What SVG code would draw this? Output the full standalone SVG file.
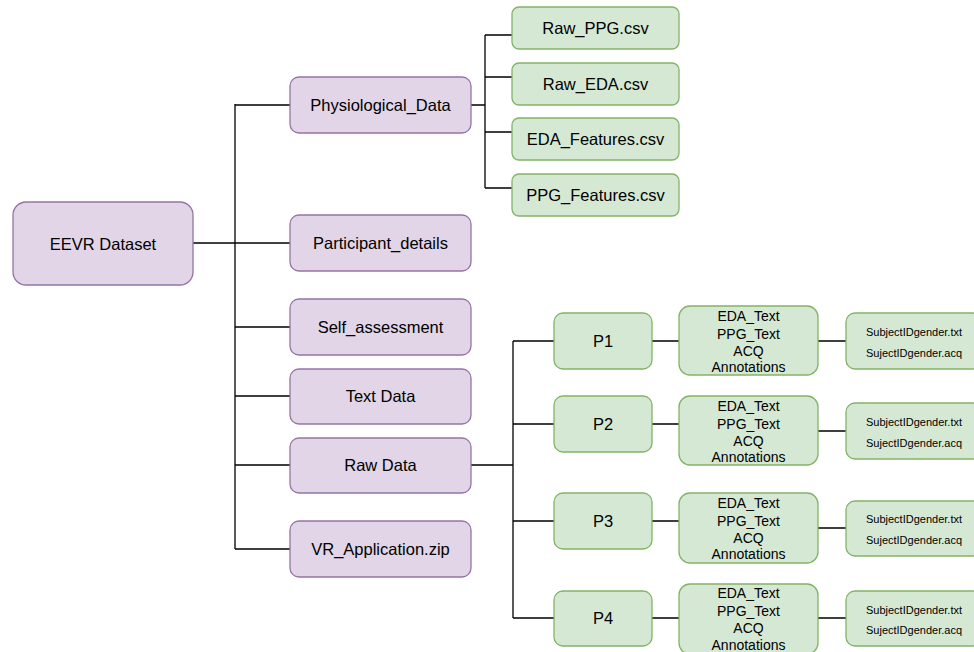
<svg xmlns="http://www.w3.org/2000/svg" width="974" height="652" viewBox="0 0 974 652">
<style>
.p{fill:#e1d5e7;stroke:#9673a6;stroke-width:1.3}
.g{fill:#d5e8d4;stroke:#82b366;stroke-width:1.3}
text{font-family:"Liberation Sans",Arial,sans-serif;fill:#000;text-anchor:middle;dominant-baseline:central}
.t16{font-size:16.5px}
.t14{font-size:14px}
.t11{font-size:11px}
#connectors path{fill:none;stroke:#000;stroke-width:1.3}
</style>
<rect width="974" height="652" fill="#fff"/>
<g id="connectors">
<path d="M193 243H290"/>
<path d="M235 104V549M235 105H290M235 327H290M235 396H290M235 465H290M235 549H290"/>
<path d="M471 105H485M485 35V188M485 35H512M485 77H512M485 132H512M485 188H512"/>
<path d="M471 465H513M513 341V618M513 341H554M513 424H554M513 521H554M513 618H554"/>
<path d="M652 341H679M652 424H679M652 521H679M652 618H679"/>
<path d="M818 341H846M818 431H846M818 528H846M818 618H846"/>
</g>
<g id="root"><rect class="p" x="13" y="202" width="180" height="83" rx="13"/><text class="t16" x="103" y="243.5">EEVR Dataset</text></g>
<g id="physio"><rect class="p" x="290" y="77" width="181" height="56" rx="9"/><text class="t16" x="380.5" y="105">Physiological_Data</text></g>
<g id="participant"><rect class="p" x="290" y="215" width="181" height="56" rx="9"/><text class="t16" x="380.5" y="243">Participant_details</text></g>
<g id="self"><rect class="p" x="290" y="299" width="181" height="56" rx="9"/><text class="t16" x="380.5" y="327">Self_assessment</text></g>
<g id="text"><rect class="p" x="290" y="369" width="181" height="55" rx="9"/><text class="t16" x="380.5" y="396">Text Data</text></g>
<g id="raw"><rect class="p" x="290" y="438" width="181" height="55" rx="9"/><text class="t16" x="380.5" y="465">Raw Data</text></g>
<g id="vr"><rect class="p" x="290" y="521" width="181" height="56" rx="9"/><text class="t16" x="380.5" y="549">VR_Application.zip</text></g>
<g id="rawppg"><rect class="g" x="512" y="7" width="167" height="42" rx="7"/><text class="t16" x="595.5" y="28">Raw_PPG.csv</text></g>
<g id="raweda"><rect class="g" x="512" y="63" width="167" height="42" rx="7"/><text class="t16" x="595.5" y="84">Raw_EDA.csv</text></g>
<g id="edafeat"><rect class="g" x="512" y="118" width="167" height="42" rx="7"/><text class="t16" x="595.5" y="139">EDA_Features.csv</text></g>
<g id="ppgfeat"><rect class="g" x="512" y="174" width="167" height="42" rx="7"/><text class="t16" x="595.5" y="195">PPG_Features.csv</text></g>
<g id="p1"><rect class="g" x="554" y="313" width="98" height="56" rx="9"/><text class="t16" x="603" y="341">P1</text></g>
<g id="p2"><rect class="g" x="554" y="396" width="98" height="56" rx="9"/><text class="t16" x="603" y="424">P2</text></g>
<g id="p3"><rect class="g" x="554" y="493" width="98" height="56" rx="9"/><text class="t16" x="603" y="521">P3</text></g>
<g id="p4"><rect class="g" x="554" y="591" width="98" height="55" rx="9"/><text class="t16" x="603" y="618">P4</text></g>
<g id="m1"><rect class="g" x="679" y="306" width="139" height="69" rx="11"/><text class="t14" x="748.5" y="316">EDA_Text</text><text class="t14" x="748.5" y="334">PPG_Text</text><text class="t14" x="748.5" y="351">ACQ</text><text class="t14" x="748.5" y="367">Annotations</text></g>
<g id="m2"><rect class="g" x="679" y="396" width="139" height="69" rx="11"/><text class="t14" x="748.5" y="406">EDA_Text</text><text class="t14" x="748.5" y="424">PPG_Text</text><text class="t14" x="748.5" y="441">ACQ</text><text class="t14" x="748.5" y="457">Annotations</text></g>
<g id="m3"><rect class="g" x="679" y="493" width="139" height="70" rx="11"/><text class="t14" x="748.5" y="503">EDA_Text</text><text class="t14" x="748.5" y="521">PPG_Text</text><text class="t14" x="748.5" y="538">ACQ</text><text class="t14" x="748.5" y="554">Annotations</text></g>
<g id="m4"><rect class="g" x="679" y="584" width="139" height="70" rx="11"/><text class="t14" x="748.5" y="593">EDA_Text</text><text class="t14" x="748.5" y="611">PPG_Text</text><text class="t14" x="748.5" y="628">ACQ</text><text class="t14" x="748.5" y="645">Annotations</text></g>
<g id="f1"><rect class="g" x="846" y="313" width="136" height="56" rx="9"/><text class="t11" x="914" y="332">SubjectIDgender.txt</text><text class="t11" x="914" y="353">SujectIDgender.acq</text></g>
<g id="f2"><rect class="g" x="846" y="403" width="136" height="56" rx="9"/><text class="t11" x="914" y="422">SubjectIDgender.txt</text><text class="t11" x="914" y="443">SujectIDgender.acq</text></g>
<g id="f3"><rect class="g" x="846" y="501" width="136" height="55" rx="9"/><text class="t11" x="914" y="519">SubjectIDgender.txt</text><text class="t11" x="914" y="540">SujectIDgender.acq</text></g>
<g id="f4"><rect class="g" x="846" y="591" width="136" height="55" rx="9"/><text class="t11" x="914" y="610">SubjectIDgender.txt</text><text class="t11" x="914" y="630">SujectIDgender.acq</text></g>
</svg>
